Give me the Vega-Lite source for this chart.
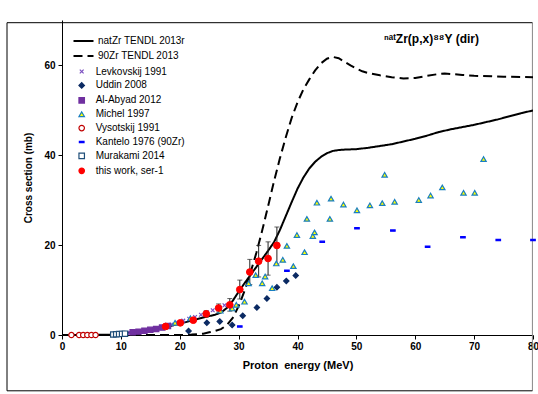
{
  "$schema": "https://vega.github.io/schema/vega-lite/v6.json",
  "width": 471,
  "height": 315,
  "autosize": {"type": "none"},
  "padding": {"left": 62, "top": 20, "right": 5, "bottom": 59},
  "background": "white",
  "config": {
    "view": {"stroke": null},
    "font": "Liberation Sans",
    "axis": {
      "domainColor": "#000", "tickColor": "#000", "labelColor": "#000", "titleColor": "#000",
      "grid": false, "labelFont": "Liberation Sans", "labelFontWeight": "bold", "labelFontSize": 10,
      "titleFont": "Liberation Sans", "titleFontWeight": "bold", "titleFontSize": 11,
      "tickSize": 4, "domainWidth": 1, "tickWidth": 1
    },
    "axisX": {"labelPadding": 2, "titlePadding": 8, "labelFlush": false},
    "axisY": {"labelPadding": 3, "titlePadding": 10, "titleFontSize": 10},
    "legend": {"labelFont": "Liberation Sans", "labelFontSize": 10, "labelColor": "#000"}
  },
  "title": {
    "text": "ⁿᵃᵗZr(p,x)⁸⁸Y (dir)",
    "anchor": "end", "frame": "group", "orient": "top",
    "offset": -26, "dx": -54,
    "fontSize": 12, "fontWeight": "bold", "font": "Liberation Sans", "color": "#000"
  },
  "datasets": {
    "frame": [{"k": 1}],
    "curves": [
      {"series": "natZr TENDL 2013r", "e": 0, "cs": 0},
      {"series": "natZr TENDL 2013r", "e": 4, "cs": 0},
      {"series": "natZr TENDL 2013r", "e": 8, "cs": 0.05},
      {"series": "natZr TENDL 2013r", "e": 10, "cs": 0.3},
      {"series": "natZr TENDL 2013r", "e": 12, "cs": 0.6},
      {"series": "natZr TENDL 2013r", "e": 14, "cs": 1.0},
      {"series": "natZr TENDL 2013r", "e": 16, "cs": 1.4},
      {"series": "natZr TENDL 2013r", "e": 18, "cs": 1.9},
      {"series": "natZr TENDL 2013r", "e": 20, "cs": 2.5},
      {"series": "natZr TENDL 2013r", "e": 22, "cs": 3.2},
      {"series": "natZr TENDL 2013r", "e": 24, "cs": 3.9},
      {"series": "natZr TENDL 2013r", "e": 26, "cs": 4.5},
      {"series": "natZr TENDL 2013r", "e": 27, "cs": 5.0},
      {"series": "natZr TENDL 2013r", "e": 28, "cs": 6.0},
      {"series": "natZr TENDL 2013r", "e": 29, "cs": 7.6},
      {"series": "natZr TENDL 2013r", "e": 30, "cs": 9.6},
      {"series": "natZr TENDL 2013r", "e": 31, "cs": 11.5},
      {"series": "natZr TENDL 2013r", "e": 32, "cs": 13.3},
      {"series": "natZr TENDL 2013r", "e": 33, "cs": 15.1},
      {"series": "natZr TENDL 2013r", "e": 34, "cs": 16.9},
      {"series": "natZr TENDL 2013r", "e": 35, "cs": 18.7},
      {"series": "natZr TENDL 2013r", "e": 36, "cs": 20.6},
      {"series": "natZr TENDL 2013r", "e": 37, "cs": 23.3},
      {"series": "natZr TENDL 2013r", "e": 38, "cs": 26.4},
      {"series": "natZr TENDL 2013r", "e": 39, "cs": 29.5},
      {"series": "natZr TENDL 2013r", "e": 40, "cs": 32.5},
      {"series": "natZr TENDL 2013r", "e": 41, "cs": 35.0},
      {"series": "natZr TENDL 2013r", "e": 42, "cs": 37.0},
      {"series": "natZr TENDL 2013r", "e": 43, "cs": 38.5},
      {"series": "natZr TENDL 2013r", "e": 44, "cs": 39.6},
      {"series": "natZr TENDL 2013r", "e": 45, "cs": 40.4},
      {"series": "natZr TENDL 2013r", "e": 46, "cs": 40.9},
      {"series": "natZr TENDL 2013r", "e": 47, "cs": 41.1},
      {"series": "natZr TENDL 2013r", "e": 48, "cs": 41.2},
      {"series": "natZr TENDL 2013r", "e": 50, "cs": 41.3},
      {"series": "natZr TENDL 2013r", "e": 52, "cs": 41.6},
      {"series": "natZr TENDL 2013r", "e": 54, "cs": 42.0},
      {"series": "natZr TENDL 2013r", "e": 56, "cs": 42.4},
      {"series": "natZr TENDL 2013r", "e": 58, "cs": 43.0},
      {"series": "natZr TENDL 2013r", "e": 60, "cs": 43.6},
      {"series": "natZr TENDL 2013r", "e": 62, "cs": 44.3},
      {"series": "natZr TENDL 2013r", "e": 64, "cs": 45.1},
      {"series": "natZr TENDL 2013r", "e": 66, "cs": 45.7},
      {"series": "natZr TENDL 2013r", "e": 68, "cs": 46.2},
      {"series": "natZr TENDL 2013r", "e": 70, "cs": 46.7},
      {"series": "natZr TENDL 2013r", "e": 72, "cs": 47.3},
      {"series": "natZr TENDL 2013r", "e": 74, "cs": 47.9},
      {"series": "natZr TENDL 2013r", "e": 76, "cs": 48.6},
      {"series": "natZr TENDL 2013r", "e": 78, "cs": 49.3},
      {"series": "natZr TENDL 2013r", "e": 80, "cs": 49.9},
      {"series": "90Zr TENDL 2013", "e": 0, "cs": 0},
      {"series": "90Zr TENDL 2013", "e": 20, "cs": 0},
      {"series": "90Zr TENDL 2013", "e": 22, "cs": 0.1},
      {"series": "90Zr TENDL 2013", "e": 24, "cs": 0.3},
      {"series": "90Zr TENDL 2013", "e": 25, "cs": 0.6},
      {"series": "90Zr TENDL 2013", "e": 26, "cs": 0.9},
      {"series": "90Zr TENDL 2013", "e": 27, "cs": 1.3},
      {"series": "90Zr TENDL 2013", "e": 28, "cs": 2.2},
      {"series": "90Zr TENDL 2013", "e": 29, "cs": 3.8},
      {"series": "90Zr TENDL 2013", "e": 30, "cs": 6.4},
      {"series": "90Zr TENDL 2013", "e": 31, "cs": 9.8},
      {"series": "90Zr TENDL 2013", "e": 32, "cs": 13.8},
      {"series": "90Zr TENDL 2013", "e": 33, "cs": 18.2},
      {"series": "90Zr TENDL 2013", "e": 34, "cs": 23.2},
      {"series": "90Zr TENDL 2013", "e": 35, "cs": 28.6},
      {"series": "90Zr TENDL 2013", "e": 36, "cs": 34.1},
      {"series": "90Zr TENDL 2013", "e": 37, "cs": 39.2},
      {"series": "90Zr TENDL 2013", "e": 38, "cs": 43.9},
      {"series": "90Zr TENDL 2013", "e": 39, "cs": 48.2},
      {"series": "90Zr TENDL 2013", "e": 40, "cs": 51.7},
      {"series": "90Zr TENDL 2013", "e": 41, "cs": 54.6},
      {"series": "90Zr TENDL 2013", "e": 42, "cs": 56.8},
      {"series": "90Zr TENDL 2013", "e": 43, "cs": 58.8},
      {"series": "90Zr TENDL 2013", "e": 44, "cs": 60.4},
      {"series": "90Zr TENDL 2013", "e": 45, "cs": 61.4},
      {"series": "90Zr TENDL 2013", "e": 46, "cs": 61.8},
      {"series": "90Zr TENDL 2013", "e": 47, "cs": 61.5},
      {"series": "90Zr TENDL 2013", "e": 48, "cs": 60.7},
      {"series": "90Zr TENDL 2013", "e": 49, "cs": 59.9},
      {"series": "90Zr TENDL 2013", "e": 50, "cs": 59.2},
      {"series": "90Zr TENDL 2013", "e": 51, "cs": 58.6},
      {"series": "90Zr TENDL 2013", "e": 52, "cs": 58.2},
      {"series": "90Zr TENDL 2013", "e": 54, "cs": 57.7},
      {"series": "90Zr TENDL 2013", "e": 56, "cs": 57.3},
      {"series": "90Zr TENDL 2013", "e": 58, "cs": 57.0},
      {"series": "90Zr TENDL 2013", "e": 60, "cs": 57.1},
      {"series": "90Zr TENDL 2013", "e": 62, "cs": 57.6},
      {"series": "90Zr TENDL 2013", "e": 64, "cs": 58.0},
      {"series": "90Zr TENDL 2013", "e": 65, "cs": 58.1},
      {"series": "90Zr TENDL 2013", "e": 66, "cs": 58.0},
      {"series": "90Zr TENDL 2013", "e": 68, "cs": 57.8},
      {"series": "90Zr TENDL 2013", "e": 70, "cs": 57.6},
      {"series": "90Zr TENDL 2013", "e": 75, "cs": 57.4},
      {"series": "90Zr TENDL 2013", "e": 80, "cs": 57.3}
    ],
    "pts": [
      {"src": "Levkovskij 1991", "e": 9.6, "cs": 0.25},
      {"src": "Levkovskij 1991", "e": 10.1, "cs": 0.3},
      {"src": "Levkovskij 1991", "e": 10.6, "cs": 0.35},
      {"src": "Levkovskij 1991", "e": 11.1, "cs": 0.45},
      {"src": "Levkovskij 1991", "e": 11.6, "cs": 0.5},
      {"src": "Levkovskij 1991", "e": 12.1, "cs": 0.55},
      {"src": "Levkovskij 1991", "e": 12.6, "cs": 0.65},
      {"src": "Levkovskij 1991", "e": 13.1, "cs": 0.75},
      {"src": "Levkovskij 1991", "e": 13.6, "cs": 0.85},
      {"src": "Levkovskij 1991", "e": 14.1, "cs": 0.95},
      {"src": "Levkovskij 1991", "e": 14.6, "cs": 1.05},
      {"src": "Levkovskij 1991", "e": 15.1, "cs": 1.15},
      {"src": "Levkovskij 1991", "e": 15.6, "cs": 1.3},
      {"src": "Levkovskij 1991", "e": 16.1, "cs": 1.4},
      {"src": "Levkovskij 1991", "e": 16.6, "cs": 1.55},
      {"src": "Levkovskij 1991", "e": 17.1, "cs": 1.7},
      {"src": "Levkovskij 1991", "e": 17.6, "cs": 1.9},
      {"src": "Levkovskij 1991", "e": 18.6, "cs": 2.3},
      {"src": "Levkovskij 1991", "e": 19.6, "cs": 2.7},
      {"src": "Levkovskij 1991", "e": 20.6, "cs": 3.2},
      {"src": "Levkovskij 1991", "e": 21.6, "cs": 3.6},
      {"src": "Levkovskij 1991", "e": 22.6, "cs": 4.0},
      {"src": "Levkovskij 1991", "e": 23.6, "cs": 4.5},
      {"src": "Levkovskij 1991", "e": 24.6, "cs": 5.0},
      {"src": "Levkovskij 1991", "e": 25.6, "cs": 5.5},
      {"src": "Levkovskij 1991", "e": 26.6, "cs": 6.0},
      {"src": "Levkovskij 1991", "e": 27.6, "cs": 6.6},
      {"src": "Al-Abyad 2012", "e": 12.0, "cs": 0.6},
      {"src": "Al-Abyad 2012", "e": 13.0, "cs": 0.75},
      {"src": "Al-Abyad 2012", "e": 14.0, "cs": 0.95},
      {"src": "Al-Abyad 2012", "e": 15.0, "cs": 1.15},
      {"src": "Al-Abyad 2012", "e": 16.0, "cs": 1.35},
      {"src": "Al-Abyad 2012", "e": 17.0, "cs": 1.65},
      {"src": "Al-Abyad 2012", "e": 18.0, "cs": 2.0},
      {"src": "Uddin 2008", "e": 21.5, "cs": 0.9},
      {"src": "Uddin 2008", "e": 24.6, "cs": 2.7},
      {"src": "Uddin 2008", "e": 26.8, "cs": 3.0},
      {"src": "Uddin 2008", "e": 28.9, "cs": 2.2},
      {"src": "Uddin 2008", "e": 30.7, "cs": 4.3},
      {"src": "Uddin 2008", "e": 33.1, "cs": 6.1},
      {"src": "Uddin 2008", "e": 34.8, "cs": 8.1},
      {"src": "Uddin 2008", "e": 36.5, "cs": 10.6},
      {"src": "Uddin 2008", "e": 38.1, "cs": 12.0},
      {"src": "Uddin 2008", "e": 39.7, "cs": 13.2},
      {"src": "Michel 1997", "e": 19.2, "cs": 2.7},
      {"src": "Michel 1997", "e": 21.8, "cs": 3.7},
      {"src": "Michel 1997", "e": 26.9, "cs": 5.4},
      {"src": "Michel 1997", "e": 28.9, "cs": 5.9},
      {"src": "Michel 1997", "e": 29.6, "cs": 6.7},
      {"src": "Michel 1997", "e": 31.0, "cs": 7.4},
      {"src": "Michel 1997", "e": 31.7, "cs": 11.5},
      {"src": "Michel 1997", "e": 32.9, "cs": 13.3},
      {"src": "Michel 1997", "e": 34.0, "cs": 11.5},
      {"src": "Michel 1997", "e": 34.5, "cs": 13.0},
      {"src": "Michel 1997", "e": 35.7, "cs": 10.4},
      {"src": "Michel 1997", "e": 36.4, "cs": 15.9},
      {"src": "Michel 1997", "e": 37.5, "cs": 16.7},
      {"src": "Michel 1997", "e": 38.2, "cs": 19.8},
      {"src": "Michel 1997", "e": 39.3, "cs": 15.3},
      {"src": "Michel 1997", "e": 39.9, "cs": 22.2},
      {"src": "Michel 1997", "e": 41.2, "cs": 18.4},
      {"src": "Michel 1997", "e": 41.6, "cs": 25.8},
      {"src": "Michel 1997", "e": 42.6, "cs": 22.0},
      {"src": "Michel 1997", "e": 42.9, "cs": 22.8},
      {"src": "Michel 1997", "e": 43.3, "cs": 29.4},
      {"src": "Michel 1997", "e": 45.5, "cs": 25.8},
      {"src": "Michel 1997", "e": 45.7, "cs": 30.3},
      {"src": "Michel 1997", "e": 47.8, "cs": 29.0},
      {"src": "Michel 1997", "e": 50.1, "cs": 27.7},
      {"src": "Michel 1997", "e": 52.3, "cs": 28.8},
      {"src": "Michel 1997", "e": 54.4, "cs": 29.3},
      {"src": "Michel 1997", "e": 54.8, "cs": 35.6},
      {"src": "Michel 1997", "e": 56.5, "cs": 29.6},
      {"src": "Michel 1997", "e": 60.6, "cs": 30.0},
      {"src": "Michel 1997", "e": 62.6, "cs": 31.0},
      {"src": "Michel 1997", "e": 64.6, "cs": 32.8},
      {"src": "Michel 1997", "e": 68.2, "cs": 31.6},
      {"src": "Michel 1997", "e": 70.1, "cs": 31.6},
      {"src": "Michel 1997", "e": 71.6, "cs": 39.1},
      {"src": "Vysotskij 1991", "e": 1.6, "cs": 0},
      {"src": "Vysotskij 1991", "e": 2.9, "cs": 0},
      {"src": "Vysotskij 1991", "e": 3.6, "cs": 0},
      {"src": "Vysotskij 1991", "e": 4.3, "cs": 0},
      {"src": "Vysotskij 1991", "e": 5.0, "cs": 0},
      {"src": "Vysotskij 1991", "e": 5.7, "cs": 0},
      {"src": "Kantelo 1976 (90Zr)", "e": 30.2, "cs": 1.9},
      {"src": "Kantelo 1976 (90Zr)", "e": 38.2, "cs": 14.3},
      {"src": "Kantelo 1976 (90Zr)", "e": 44.2, "cs": 20.7},
      {"src": "Kantelo 1976 (90Zr)", "e": 50.1, "cs": 23.7},
      {"src": "Kantelo 1976 (90Zr)", "e": 56.2, "cs": 23.2},
      {"src": "Kantelo 1976 (90Zr)", "e": 62.1, "cs": 19.6},
      {"src": "Kantelo 1976 (90Zr)", "e": 68.1, "cs": 21.7},
      {"src": "Kantelo 1976 (90Zr)", "e": 74.1, "cs": 21.1},
      {"src": "Kantelo 1976 (90Zr)", "e": 80.0, "cs": 21.1},
      {"src": "Murakami 2014", "e": 8.7, "cs": 0.1},
      {"src": "Murakami 2014", "e": 9.2, "cs": 0.15},
      {"src": "Murakami 2014", "e": 9.7, "cs": 0.2},
      {"src": "Murakami 2014", "e": 10.2, "cs": 0.25},
      {"src": "Murakami 2014", "e": 10.7, "cs": 0.3}
    ],
    "thiswork": [
      {"src": "this work, ser-1", "e": 17.6, "cs": 1.9, "lo": 1.6, "hi": 2.2},
      {"src": "this work, ser-1", "e": 20.1, "cs": 2.7, "lo": 2.3, "hi": 3.1},
      {"src": "this work, ser-1", "e": 22.3, "cs": 3.3, "lo": 2.8, "hi": 3.8},
      {"src": "this work, ser-1", "e": 24.5, "cs": 4.7, "lo": 4.0, "hi": 5.4},
      {"src": "this work, ser-1", "e": 26.6, "cs": 6.0, "lo": 5.1, "hi": 6.9},
      {"src": "this work, ser-1", "e": 28.5, "cs": 6.7, "lo": 5.3, "hi": 8.1},
      {"src": "this work, ser-1", "e": 30.2, "cs": 10.1, "lo": 8.0, "hi": 12.2},
      {"src": "this work, ser-1", "e": 31.9, "cs": 14.0, "lo": 11.2, "hi": 16.8},
      {"src": "this work, ser-1", "e": 33.4, "cs": 16.4, "lo": 12.9, "hi": 19.9},
      {"src": "this work, ser-1", "e": 35.0, "cs": 17.0, "lo": 13.3, "hi": 20.7},
      {"src": "this work, ser-1", "e": 36.5, "cs": 19.9, "lo": 15.8, "hi": 24.0}
    ]
  },
  "layer": [
    {
      "data": {"name": "frame"},
      "mark": {"type": "rule", "color": "#000", "strokeWidth": 1, "clip": false},
      "encoding": {
        "x": {"datum": -9.34, "type": "quantitative", "scale": {"domain": [0, 80], "nice": false}, "title": "Proton\u00a0\u00a0energy (MeV)", "axis": {"values": [0, 10, 20, 30, 40, 50, 60, 70, 80]}},
        "y": {"datum": 69.4, "type": "quantitative", "scale": {"domain": [0, 70], "nice": false}, "title": "Cross section (mb)", "axis": {"values": [0, 20, 40, 60]}},
        "y2": {"datum": -12.4}
      }
    },
    {
      "data": {"name": "frame"},
      "mark": {"type": "rule", "color": "#888", "strokeWidth": 1, "clip": false},
      "encoding": {
        "x": {"datum": 79.9, "type": "quantitative", "scale": {"domain": [0, 80], "nice": false}, "title": "Proton\u00a0\u00a0energy (MeV)"},
        "y": {"datum": 69.4, "type": "quantitative", "scale": {"domain": [0, 70], "nice": false}, "title": "Cross section (mb)"},
        "y2": {"datum": -12.4}
      }
    },
    {
      "data": {"name": "frame"},
      "mark": {"type": "rule", "color": "#000", "strokeWidth": 1, "clip": false},
      "encoding": {
        "x": {"datum": -9.34, "type": "quantitative", "scale": {"domain": [0, 80], "nice": false}, "title": "Proton\u00a0\u00a0energy (MeV)"},
        "x2": {"datum": 79.9},
        "y": {"datum": -12.4, "type": "quantitative", "scale": {"domain": [0, 70], "nice": false}, "title": "Cross section (mb)"}
      }
    },
    {
      "data": {"name": "frame"},
      "mark": {"type": "rule", "color": "#000", "strokeWidth": 1, "clip": false},
      "encoding": {
        "x": {"datum": -9.34, "type": "quantitative", "scale": {"domain": [0, 80], "nice": false}, "title": "Proton\u00a0\u00a0energy (MeV)"},
        "x2": {"datum": 79.9},
        "y": {"datum": 69.4, "type": "quantitative", "scale": {"domain": [0, 70], "nice": false}, "title": "Cross section (mb)"}
      }
    },
    {
      "data": {"name": "curves"},
      "mark": {"type": "line", "color": "#000", "strokeWidth": 2, "clip": true},
      "encoding": {
        "x": {"field": "e", "type": "quantitative", "scale": {"domain": [0, 80], "nice": false}, "title": "Proton\u00a0\u00a0energy (MeV)", "axis": {"values": [0, 10, 20, 30, 40, 50, 60, 70, 80]}},
        "y": {"field": "cs", "type": "quantitative", "scale": {"domain": [0, 70], "nice": false}, "title": "Cross section (mb)", "axis": {"values": [0, 20, 40, 60]}},
        "strokeDash": {
          "field": "series", "type": "nominal",
          "scale": {"domain": ["natZr TENDL 2013r", "90Zr TENDL 2013"], "range": [[1, 0], [9, 5]]},
          "legend": {"title": null, "orient": "none", "legendX": 10.5, "legendY": 16, "symbolSize": 400, "symbolStrokeWidth": 2, "symbolStrokeColor": "#000", "labelOffset": 3.5, "rowPadding": 5, "clipHeight": 10, "labelFontSize": 10}
        }
      }
    },
    {
      "data": {"name": "thiswork"},
      "mark": {"type": "errorbar", "color": "#222", "thickness": 1, "ticks": {"size": 5, "color": "#222"}},
      "encoding": {
        "x": {"field": "e", "type": "quantitative", "scale": {"domain": [0, 80], "nice": false}, "title": "Proton\u00a0\u00a0energy (MeV)"},
        "y": {"field": "lo", "type": "quantitative", "scale": {"domain": [0, 70], "nice": false}, "title": "Cross section (mb)"},
        "y2": {"field": "hi"}
      }
    },
    {
      "data": {"name": "pts"},
      "mark": {"type": "point", "filled": true, "size": 28, "strokeWidth": 1.2, "opacity": 1},
      "encoding": {
        "x": {"field": "e", "type": "quantitative", "scale": {"domain": [0, 80], "nice": false}, "title": "Proton\u00a0\u00a0energy (MeV)"},
        "y": {"field": "cs", "type": "quantitative", "scale": {"domain": [0, 70], "nice": false}, "title": "Cross section (mb)"},
        "shape": {
          "field": "src", "type": "nominal",
          "scale": {"domain": ["Levkovskij 1991", "Uddin 2008", "Al-Abyad 2012", "Michel 1997", "Vysotskij 1991", "Kantelo 1976 (90Zr)", "Murakami 2014", "this work, ser-1"],
                    "range": ["M-0.7,-0.7L0.7,0.7M-0.7,0.7L0.7,-0.7", "diamond", "square", "triangle-up", "circle", "M-0.85,-0.25H0.85V0.25H-0.85Z", "square", "circle"]},
          "legend": {"title": null, "orient": "none", "legendX": 14.7, "legendY": 46.5, "symbolSize": 30, "labelOffset": 9, "rowPadding": 2.9, "labelFontSize": 10, "symbolStrokeWidth": 1.2}
        },
        "fill": {
          "field": "src", "type": "nominal",
          "scale": {"domain": ["Levkovskij 1991", "Uddin 2008", "Al-Abyad 2012", "Michel 1997", "Vysotskij 1991", "Kantelo 1976 (90Zr)", "Murakami 2014", "this work, ser-1"],
                    "range": ["#7B4FC0", "#0B2A63", "#7030A0", "#FFFF00", "#FFFFFF", "#0000FF", "#FFFFFF", "#FF0000"]},
          "legend": {"title": null, "orient": "none", "legendX": 14.7, "legendY": 46.5, "symbolSize": 30, "labelOffset": 9, "rowPadding": 2.9, "labelFontSize": 10, "symbolStrokeWidth": 1.2}
        },
        "stroke": {
          "field": "src", "type": "nominal",
          "scale": {"domain": ["Levkovskij 1991", "Uddin 2008", "Al-Abyad 2012", "Michel 1997", "Vysotskij 1991", "Kantelo 1976 (90Zr)", "Murakami 2014", "this work, ser-1"],
                    "range": ["#7B4FC0", "#0B2A63", "#7030A0", "#1A7FC0", "#C00000", "#0000FF", "#1F4E79", "#FF0000"]},
          "legend": {"title": null, "orient": "none", "legendX": 14.7, "legendY": 46.5, "symbolSize": 30, "labelOffset": 9, "rowPadding": 2.9, "labelFontSize": 10, "symbolStrokeWidth": 1.2}
        }
      }
    },
    {
      "data": {"name": "thiswork"},
      "mark": {"type": "point", "filled": true, "size": 45, "strokeWidth": 1, "opacity": 1},
      "encoding": {
        "x": {"field": "e", "type": "quantitative", "scale": {"domain": [0, 80], "nice": false}, "title": "Proton\u00a0\u00a0energy (MeV)"},
        "y": {"field": "cs", "type": "quantitative", "scale": {"domain": [0, 70], "nice": false}, "title": "Cross section (mb)"},
        "shape": {"field": "src", "type": "nominal",
          "legend": {"title": null, "orient": "none", "legendX": 14.7, "legendY": 46.5, "symbolSize": 30, "labelOffset": 9, "rowPadding": 2.9, "labelFontSize": 10, "symbolStrokeWidth": 1.2}},
        "fill": {"field": "src", "type": "nominal",
          "legend": {"title": null, "orient": "none", "legendX": 14.7, "legendY": 46.5, "symbolSize": 30, "labelOffset": 9, "rowPadding": 2.9, "labelFontSize": 10, "symbolStrokeWidth": 1.2}},
        "stroke": {"field": "src", "type": "nominal",
          "legend": {"title": null, "orient": "none", "legendX": 14.7, "legendY": 46.5, "symbolSize": 30, "labelOffset": 9, "rowPadding": 2.9, "labelFontSize": 10, "symbolStrokeWidth": 1.2}}
      }
    }
  ]
}
